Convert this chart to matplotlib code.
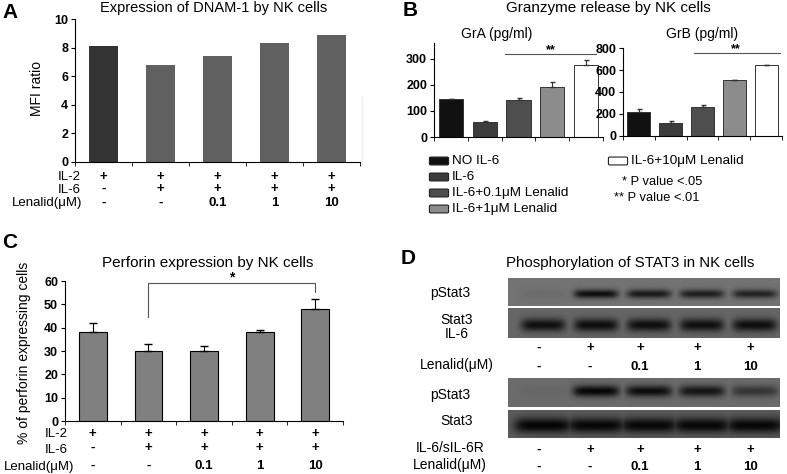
import numpy as np
import matplotlib.pyplot as plt
import matplotlib.transforms as mtrans
from matplotlib.patches import FancyBboxPatch
from matplotlib.lines import Line2D

plt.rcParams['font.family'] = ['Liberation Sans', 'DejaVu Sans']

W, H = 787, 474

# A: DNAM-1
dnam_vals = [8.1, 6.8, 7.4, 8.3, 8.9]
dnam_colors = ['#333333', '#606060', '#606060', '#606060', '#606060']

# B: granzyme
gr_groups = ['NO IL-6', 'IL-6', 'IL-6+0.1μM Lenalid', 'IL-6+1μM Lenalid', 'IL-6+10μM Lenalid']
gr_colors = ['#111111', '#3c3c3c', '#4e4e4e', '#8c8c8c', '#ffffff']
gra_vals = [145, 57, 142, 190, 275]
gra_err = [2, 5, 7, 20, 18]
grb_vals = [222, 120, 262, 505, 645]
grb_err = [25, 15, 18, 5, 5]

# C: perforin
perf_vals = [38, 30, 30, 38, 48]
perf_err = [4, 3, 2, 1, 4.5]

# treatment rows
il2_row = ['+', '+', '+', '+', '+']
il6_row = ['-', '+', '+', '+', '+']
len_row = ['-', '-', '0.1', '1', '10']

# D: band darkness per lane
top_pstat3 = [0.06, 0.88, 0.78, 0.74, 0.7]
top_stat3 = [0.85, 0.88, 0.86, 0.85, 0.86]
bot_pstat3 = [0.04, 0.95, 0.88, 0.8, 0.5]
bot_stat3 = [0.95, 0.93, 0.92, 0.92, 0.93]

fig = plt.figure(figsize=(W / 100, H / 100), dpi=100)


def px_ax(x0, y0, x1, y1):
    return fig.add_axes([x0 / W, 1 - y1 / H, (x1 - x0) / W, (y1 - y0) / H])


def ftxt(x, y, s, **kw):
    kw.setdefault('ha', 'center')
    kw.setdefault('va', 'center')
    fig.text(x / W, 1 - y / H, s, **kw)


def style_bar_ax(ax, n, yticks):
    for s in ['top', 'right']:
        ax.spines[s].set_visible(False)
    ax.set_xlim(-0.5, n - 0.5)
    ax.set_xticks([])
    ax.set_xticks(np.arange(n + 1) - 0.5, minor=True)
    ax.tick_params(axis='x', which='minor', direction='out', length=3)
    ax.set_yticks(yticks)
    ax.tick_params(axis='y', direction='out', length=3, labelsize=9, pad=2)
    for lab in ax.get_yticklabels():
        lab.set_fontweight('bold')


def treat_rows(ax, rows, names, ys, val_ys, name_xs):
    tr = mtrans.blended_transform_factory(ax.transData, fig.transFigure)
    for row, name, y, vy, nx in zip(rows, names, ys, val_ys, name_xs):
        ftxt(nx, y, name, ha='right', fontsize=9.5)
        for i, v in enumerate(row):
            ax.text(i, 1 - vy / H, v, transform=tr, ha='center', va='center',
                    fontsize=9.5, fontweight='bold')


x5 = np.arange(5)
zeros = np.zeros(5)

# ---------- A ----------
axA = px_ax(75, 19, 360, 162)
axA.bar(x5, dnam_vals, width=0.5, color=dnam_colors)
axA.set_ylim(0, 10)
style_bar_ax(axA, 5, [0, 2, 4, 6, 8, 10])
ftxt(37, 89, 'MFI ratio', rotation=90, fontsize=10)
ftxt(214, 8, 'Expression of DNAM-1 by NK cells', fontsize=10.5)
ftxt(10, 12, 'A', fontsize=15, fontweight='bold')
treat_rows(axA, [il2_row, il6_row, len_row], ['IL-2', 'IL-6', 'Lenalid(μM)'],
           [177, 190, 203], [177, 189, 203], [81, 81, 82])
fig.add_artist(Line2D([362 / W, 362 / W], [1 - 97 / H, 1 - 165 / H], color='#ececec', lw=1))

# ---------- B ----------
axGA = px_ax(434, 43, 603, 137)
axGA.bar(x5, gra_vals, width=0.72, color=gr_colors, edgecolor='#333333', linewidth=0.7)
axGA.errorbar(x5, gra_vals, yerr=[zeros, gra_err], fmt='none', ecolor='#333333',
              elinewidth=0.8, capsize=1.8)
axGA.set_ylim(0, 360)
style_bar_ax(axGA, 5, [0, 100, 200, 300])
axGA.plot([1.6, 4.3], [318, 318], color='#555555', lw=0.8, clip_on=False)
axGA.text(2.95, 333, '**', ha='center', va='center', fontsize=9, fontweight='bold')

axGB = px_ax(623, 48, 782, 136)
axGB.bar(x5, grb_vals, width=0.72, color=gr_colors, edgecolor='#333333', linewidth=0.7)
axGB.errorbar(x5, grb_vals, yerr=[zeros, grb_err], fmt='none', ecolor='#333333',
              elinewidth=0.8, capsize=1.8)
axGB.set_ylim(0, 800)
style_bar_ax(axGB, 5, [0, 200, 400, 600, 800])
axGB.plot([1.72, 4.45], [755, 755], color='#555555', lw=0.8, clip_on=False)
axGB.text(3.05, 790, '**', ha='center', va='center', fontsize=9, fontweight='bold')

ftxt(608, 8, 'Granzyme release by NK cells', fontsize=11)
ftxt(410, 10, 'B', fontsize=15, fontweight='bold')
ftxt(497, 34, 'GrA (pg/ml)', fontsize=10)
ftxt(702, 34, 'GrB (pg/ml)', fontsize=10)

# legend
leg_pos = [(430, 161), (430, 177), (430, 193), (430, 209), (609, 161)]
for (lx, ly), name, col in zip(leg_pos, gr_groups, gr_colors):
    fig.add_artist(FancyBboxPatch(((lx + 1) / W, 1 - (ly + 3) / H), 16 / W, 6 / H,
                                  boxstyle='round,pad=0.002', facecolor=col,
                                  edgecolor='#222222', linewidth=0.8,
                                  transform=fig.transFigure))
    ftxt(lx + 22, ly, name, ha='left', fontsize=9.7)
ftxt(622, 182, '* P value <.05', ha='left', fontsize=9.3)
ftxt(614, 198, '** P value <.01', ha='left', fontsize=9.3)

# ---------- C ----------
axC = px_ax(65, 281, 343, 421)
axC.bar(x5, perf_vals, width=0.5, color='#808080', edgecolor='black', linewidth=0.8)
axC.errorbar(x5, perf_vals, yerr=[zeros, perf_err], fmt='none', ecolor='black',
             elinewidth=0.8, capsize=2.8)
axC.set_ylim(0, 60)
style_bar_ax(axC, 5, [0, 10, 20, 30, 40, 50, 60])
axC.plot([1, 1, 4, 4], [44.5, 59, 59, 55.5], color='#555555', lw=0.8, clip_on=False)
axC.text(2.5, 61.5, '*', ha='center', va='center', fontsize=10, fontweight='bold')
ftxt(208, 263, 'Perforin expression by NK cells', fontsize=11)
ftxt(10, 243, 'C', fontsize=15, fontweight='bold')
ftxt(24, 353, '% of perforin expressing cells', rotation=90, fontsize=10)
treat_rows(axC, [il2_row, il6_row, len_row], ['IL-2', 'IL-6', 'Lenalid(μM)'],
           [434, 450, 467], [434, 448, 466], [68, 68, 74])

# ---------- D ----------
lane_left, lane_right = -0.66, 4.47


def blot(box, levels, bg, center, thick, half_w):
    ax = px_ax(*box)
    xs = np.linspace(lane_left, lane_right, 300)
    ys = np.linspace(0, 1, 40)
    X, Y = np.meshgrid(xs, ys)
    dark = np.zeros_like(X)
    for i, a in enumerate(levels):
        px = np.exp(-((X - i) / half_w) ** 6)
        py = np.exp(-((Y - center) / thick) ** 2)
        dark = np.maximum(dark, a * px * py)
    img = bg * (1 - dark)
    ax.imshow(img, cmap='gray', vmin=0, vmax=1, extent=(lane_left, lane_right, 1, 0),
              aspect='auto', interpolation='bilinear')
    ax.set_axis_off()
    return ax


blot((508, 278, 780, 306), top_pstat3, 0.45, 0.57, 0.16, 0.42)
blot((508, 308, 780, 338), top_stat3, 0.40, 0.57, 0.22, 0.42)
blot((508, 378, 780, 407), bot_pstat3, 0.42, 0.45, 0.2, 0.44)
blot((508, 410, 780, 438), bot_stat3, 0.36, 0.55, 0.28, 0.55)

ftxt(630, 263, 'Phosphorylation of STAT3 in NK cells', fontsize=10.8)
ftxt(408, 258, 'D', fontsize=15, fontweight='bold')
ftxt(450, 293, 'pStat3', fontsize=10)
ftxt(457, 320, 'Stat3', fontsize=10)
ftxt(457, 334, 'IL-6', fontsize=10)
ftxt(457, 365, 'Lenalid(μM)', fontsize=10)
ftxt(450, 395, 'pStat3', fontsize=10)
ftxt(457, 421, 'Stat3', fontsize=10)
ftxt(450, 448, 'IL-6/sIL-6R', fontsize=10)
ftxt(450, 465, 'Lenalid(μM)', fontsize=10)

lab_x = [539, 590, 640, 697, 750]
for rx, ry in [(il6_row, 348), (len_row, 367), (il6_row, 450), (len_row, 467)]:
    for x, v in zip(lab_x, rx):
        ftxt(x, ry, v, fontsize=9.5, fontweight='bold')

fig.savefig('out.png', dpi=100)
